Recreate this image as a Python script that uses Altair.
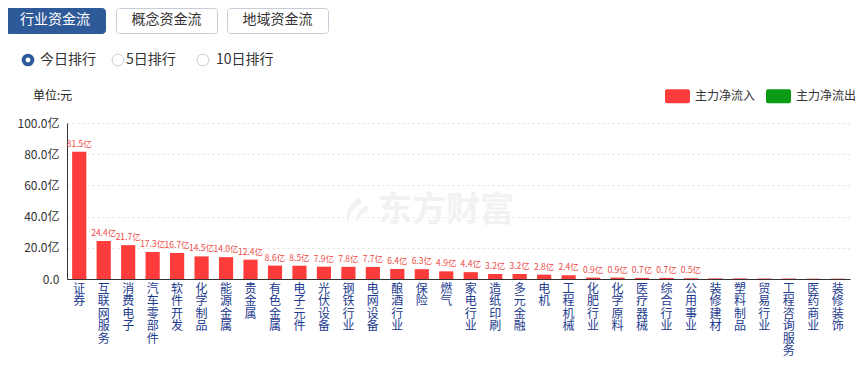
import altair as alt
import pandas as pd

FONT = "Noto Sans CJK SC"

categories = ["证券", "互联网服务", "消费电子", "汽车零部件", "软件开发", "化学制品", "能源金属", "贵金属",
              "有色金属", "电子元件", "光伏设备", "钢铁行业", "电网设备", "酿酒行业", "保险", "燃气",
              "家电行业", "造纸印刷", "多元金融", "电机", "工程机械", "化肥行业", "化学原料", "医疗器械",
              "综合行业", "公用事业", "装修建材", "塑料制品", "贸易行业", "工程咨询服务", "医药商业", "装修装饰"]
values = [81.5, 24.4, 21.7, 17.3, 16.7, 14.5, 14.0, 12.4, 8.6, 8.5, 7.9, 7.8, 7.7, 6.4, 6.3, 4.9,
          4.4, 3.2, 3.2, 2.8, 2.4, 0.9, 0.9, 0.7, 0.7, 0.5, 0.4, 0.4, 0.3, 0.3, 0.2, 0.2]
series_names = ["主力净流入", "主力净流出"]
y_ticks = [0, 20, 40, 60, 80, 100]
tabs = ["行业资金流", "概念资金流", "地域资金流"]
ranks = ["今日排行", "5日排行", "10日排行"]
unit_text = "单位:元"
watermark = "东方财富"

RED = "#ff3c3c"
GREEN = "#0a9a14"
BLUE = "#2f5a9a"

df = pd.DataFrame({"category": categories, "value": values, "type": series_names[0]})

rounded = ("M-0.84,-0.56H0.84A0.16,0.16 0 0 1 1,-0.4V0.4A0.16,0.16 0 0 1 0.84,0.56"
           "H-0.84A0.16,0.16 0 0 1 -1,0.4V-0.4A0.16,0.16 0 0 1 -0.84,-0.56Z")
logo = ("M0.3,-1C-0.5,-0.5 -0.9,0.3 -0.5,1C-0.55,0.4 -0.2,-0.2 0.55,-0.65Z"
        "M0.9,-0.45C0.2,-0.05 -0.05,0.45 0.15,0.9C0.3,0.45 0.6,0.15 1,-0.05Z")

x_enc = alt.X("category:N", sort=None,
              scale=alt.Scale(paddingInner=0.42, paddingOuter=0.21),
              axis=alt.Axis(title=None, labelAngle=0, labelExpr="split(datum.label, '')",
                            labelLineHeight=12.5, labelFontSize=12, labelColor="#1c3a8e",
                            labelPadding=4, labelBaseline="top", ticks=False,
                            domainColor="#333333", labelOverlap=False, labelFont=FONT))
y_enc = alt.Y("value:Q", scale=alt.Scale(domain=[0, 100], nice=False),
              axis=alt.Axis(title=None, values=y_ticks, tickCount=6,
                            labelExpr="datum.value == 0 ? '0.0' : format(datum.value, '.1f') + '亿'",
                            grid=True, gridDash=[2, 3], gridColor="#e0e0e0", ticks=False,
                            domainColor="#333333", labelPadding=8, labelFontSize=12,
                            labelColor="#333333", labelFont=FONT, labelOverlap=False,
                            labelFlush=False))

bars = alt.Chart(df).mark_bar().encode(
    x=x_enc, y=y_enc,
    color=alt.Color("type:N", scale=alt.Scale(domain=series_names, range=[RED, GREEN]),
                    legend=alt.Legend(orient="none", legendX=598, legendY=-39.5, direction="horizontal",
                                      title=None, symbolType=rounded, symbolSize=625,
                                      symbolStrokeWidth=0, symbolOpacity=1, labelFontSize=12,
                                      labelColor="#333333", labelOffset=5, columnPadding=10,
                                      padding=0, labelFont=FONT))
)

labels = alt.Chart(df).transform_filter("datum.value >= 0.5").transform_calculate(
    lbl="format(datum.value, '.1f') + '亿'"
).mark_text(fontSize=8.5, color="#ee4a44", baseline="alphabetic", dy=-5, font=FONT).encode(
    x=x_enc, y=y_enc, text="lbl:N")

dummy = pd.DataFrame({"d": [0]})


def rect_layer(x, x2, y, y2, fill, stroke, r=3):
    return alt.Chart(dummy).mark_rect(fill=fill, stroke=stroke, strokeWidth=1, cornerRadius=r).encode(
        x=alt.value(x), x2=alt.value(x2), y=alt.value(y), y2=alt.value(y2))


def text_layer(t, x, y, size, color, align="center", weight="normal"):
    return alt.Chart(pd.DataFrame({"t": [t]})).mark_text(
        align=align, baseline="middle", fontSize=size, color=color, font=FONT, fontWeight=weight
    ).encode(x=alt.value(x), y=alt.value(y), text="t:N")


def circle_layer(x, y, size, fill, stroke=None, shape="circle"):
    kw = dict(shape=shape, filled=True, fill=fill, size=size, opacity=1)
    if stroke:
        kw.update(stroke=stroke, strokeWidth=1)
    return alt.Chart(dummy).mark_point(**kw).encode(x=alt.value(x), y=alt.value(y))


OX, OY = 67, 123  # plot origin on page
decor = []
tab_pos = [(5, 105), (116, 217), (227, 328)]
for i, (t, (a, b)) in enumerate(zip(tabs, tab_pos)):
    sel = i == 0
    decor.append(rect_layer(a - OX + 0.5, b - OX + 0.5, 8.5 - OY, 33.5 - OY,
                            BLUE if sel else "#ffffff", BLUE if sel else "#c6cdd8"))
    decor.append(text_layer(t, (a + b) / 2 - OX, 20 - OY, 14, "#ffffff" if sel else "#333333"))

radio_c = [28, 118, 203]
radio_t = [40, 126, 216]
for i, (t, cx, tx) in enumerate(zip(ranks, radio_c, radio_t)):
    if i == 0:
        decor.append(circle_layer(cx - OX, 60 - OY, 160, BLUE))
        decor.append(circle_layer(cx - OX, 60 - OY, 24, "#ffffff"))
    else:
        decor.append(circle_layer(cx - OX, 60 - OY, 140, "#ffffff", "#c8ccd6"))
    decor.append(text_layer(t, tx - OX, 60 - OY, 14, "#333333", align="left"))

decor.append(text_layer(unit_text, 33 - OX, 96 - OY, 12, "#222222", align="left"))
wm = text_layer(watermark, 446 - OX, 211 - OY, 34, "#f2f2f2", weight="bold")
wm_logo = circle_layer(355 - OX, 211 - OY, 700, "#f2f2f2", shape=logo)

chart = alt.layer(wm_logo, wm, bars, labels, *decor).properties(
    width=783, height=156,
    padding={"left": 59, "top": 115, "right": 10, "bottom": 78},
    autosize=alt.AutoSizeParams(type="none"),
).configure(font=FONT).configure_view(stroke=None)

chart.save("out.html", embed_options={"renderer": "svg", "actions": False})
